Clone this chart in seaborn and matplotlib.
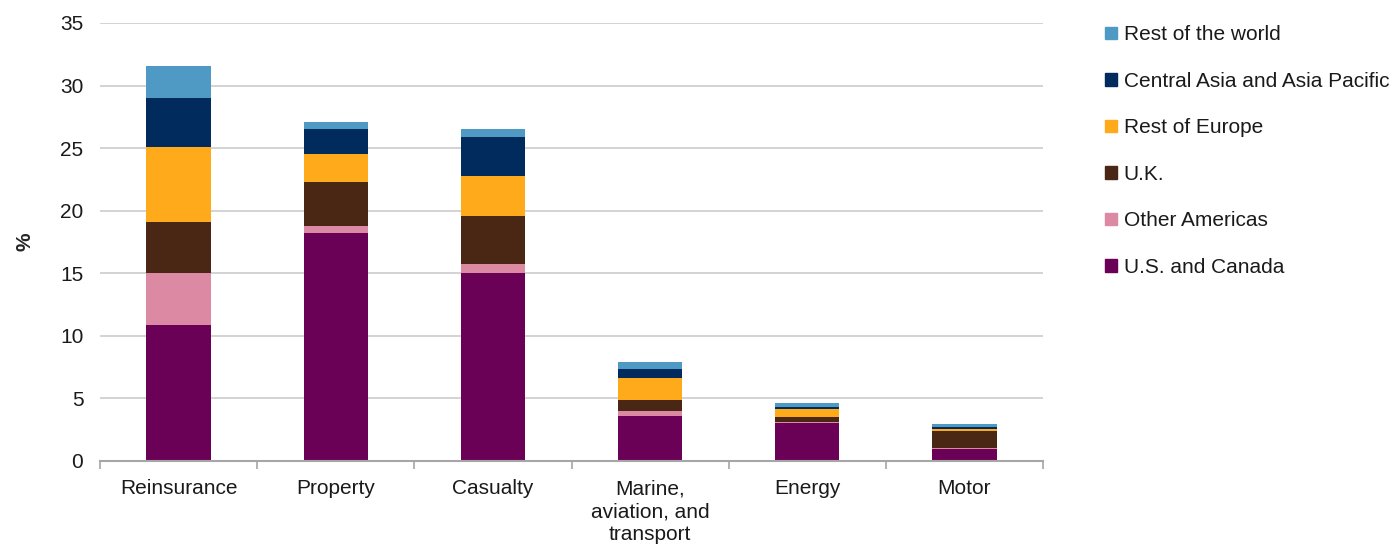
import matplotlib
matplotlib.use("Agg")
import matplotlib.pyplot as plt
import matplotlib.patches as mpatches
import numpy as np
import seaborn as sns

categories = ["Reinsurance", "Property", "Casualty", "Marine,\naviation, and\ntransport", "Energy", "Motor"]
us_canada = [10.9, 18.2, 15.05, 3.6, 3.06, 0.96]
other_americas = [4.1, 0.6, 0.7, 0.4, 0.06, 0.1]
uk = [4.1, 3.5, 3.8, 0.85, 0.42, 1.36]
rest_of_europe = [6.0, 2.2, 3.2, 1.8, 0.59, 0.16]
central_asia_apac = [3.9, 2.0, 3.15, 0.7, 0.21, 0.11]
rest_of_world = [2.6, 0.55, 0.65, 0.55, 0.27, 0.27]

series = [
    ("U.S. and Canada", us_canada, "#6b0057"),
    ("Other Americas", other_americas, "#dc8aa4"),
    ("U.K.", uk, "#4a2614"),
    ("Rest of Europe", rest_of_europe, "#ffaa1a"),
    ("Central Asia and Asia Pacific", central_asia_apac, "#002b5c"),
    ("Rest of the world", rest_of_world, "#4f9ac4"),
]

FS = 15

sns.set_theme(style="white")
plt.rcParams["font.family"] = ["Liberation Sans", "DejaVu Sans"]

fig = plt.figure(figsize=(13.98, 5.46), dpi=100)
ax = fig.add_axes([100 / 1398, 1 - 461 / 546, 943 / 1398, 438 / 546])

bottom = np.zeros(len(categories))
for name, vals, color in series:
    sns.barplot(x=categories, y=vals, bottom=bottom, color=color, width=0.41,
                linewidth=0, saturation=1, ax=ax)
    bottom = bottom + np.array(vals)

ax.set_ylim(0, 35)
ax.set_xlim(-0.5, len(categories) - 0.5)
ax.set_yticks(range(0, 36, 5))
ax.yaxis.grid(True, color="#d0d0d0", linewidth=1.3)
ax.set_axisbelow(True)
for side in ["left", "right", "top"]:
    ax.spines[side].set_visible(False)
ax.spines["bottom"].set_color("#a6a6a6")
ax.spines["bottom"].set_linewidth(1.5)

# Category tick marks sit on the boundaries between groups
ax.set_xticks(np.arange(-0.5, len(categories), 1.0), minor=True)
ax.tick_params(axis="x", which="minor", length=6, width=1.2, color="#a6a6a6", bottom=True)
ax.tick_params(axis="x", which="major", length=0, pad=13)
ax.tick_params(axis="y", length=0, pad=12)
ax.set_xticks(range(len(categories)))
ax.set_xticklabels(categories, fontsize=FS, color="#1a1a1a", linespacing=1.28)
for lbl in ax.get_yticklabels():
    lbl.set_fontsize(FS)
    lbl.set_color("#1a1a1a")
ax.set_ylabel("%", fontsize=FS, fontweight="bold", labelpad=18)
ax.set_xlabel("")

handles = [mpatches.Patch(color=c, label=n) for n, _, c in reversed(series)]
leg = fig.legend(handles=handles, loc="upper left", bbox_to_anchor=(1097 / 1398, 1 - 17 / 546),
                 frameon=False, fontsize=FS, handlelength=0.58, handleheight=0.58,
                 handletextpad=0.3, labelspacing=1.32, borderaxespad=0)
for t in leg.get_texts():
    t.set_color("#1a1a1a")

fig.savefig("out.png", dpi=100)
